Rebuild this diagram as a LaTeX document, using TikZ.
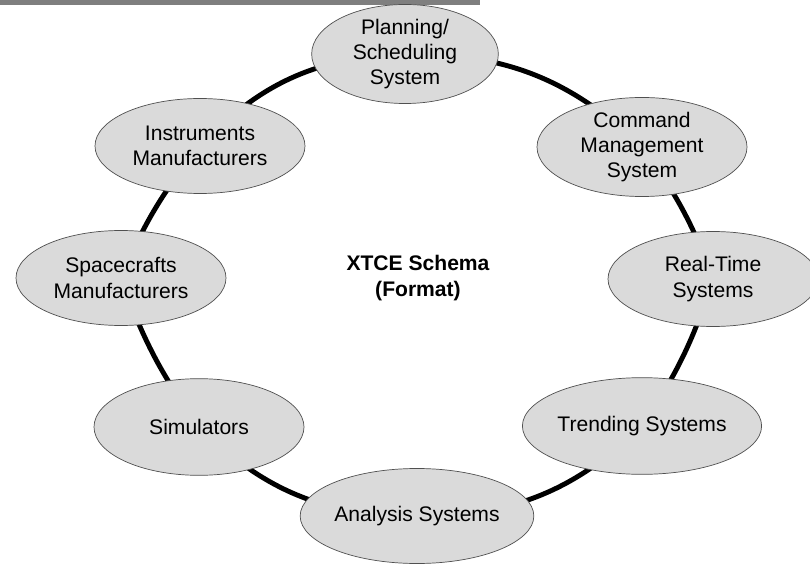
\documentclass[tikz,border=0pt]{standalone}
\usepackage{fontspec}
\setmainfont{Liberation Sans}
\usetikzlibrary{shapes.geometric,backgrounds}
\definecolor{bubblegray}{HTML}{DADADA}
\definecolor{rimgray}{HTML}{505050}
\definecolor{bargray}{HTML}{7F7F7F}
\begin{document}
\begin{tikzpicture}[
        x=0.3mm, y=0.3mm,
        bubble/.style={ellipse, draw=rimgray, line width=0.6pt, fill=bubblegray, inner sep=0pt,
            minimum width=63mm, minimum height=28.5mm, align=center, font=\fontsize{18}{21.5}\selectfont},
        ring/.style={line width=4.2pt, bend left=22},
        sidering/.style={line width=4.2pt, bend left=8}
    ]
        \useasboundingbox (0,0) rectangle (810,565);
        \fill[bargray] (0,560) rectangle (480,565);

        \node[bubble, minimum width=56mm, minimum height=29.4mm] (plan) at (405,511) {Planning/\\Scheduling\\System};
        \node[bubble, minimum height=29mm] (cmd) at (642,418) {Command\\Management\\System};
        \node[bubble] (rt) at (713,286) {Real-Time\\Systems};
        \node[bubble, minimum height=29mm] (trend) at (642,139) {Trending Systems};
        \node[bubble] (anal) at (417,49) {Analysis Systems};
        \node[bubble, minimum height=29mm] (sim) at (199,138) {Simulators};
        \node[bubble] (space) at (121,287) {Spacecrafts\\Manufacturers};
        \node[bubble] (instr) at (200,419) {Instruments\\Manufacturers};
        \node[align=center, font=\bfseries\fontsize{18}{21.5}\selectfont] (xtce) at (418,287) {XTCE Schema\\(Format)};

        \begin{scope}[on background layer]
            \draw[ring] (plan.center) to (cmd.center);
            \draw[sidering] (cmd.center) to (rt.center);
            \draw[sidering] (rt.center) to (trend.center);
            \draw[ring] (trend.center) to (anal.center);
            \draw[ring] (anal.center) to (sim.center);
            \draw[sidering] (sim.center) to (space.center);
            \draw[sidering] (space.center) to (instr.center);
            \draw[ring] (instr.center) to (plan.center);
        \end{scope}
    \end{tikzpicture}
\end{document}
